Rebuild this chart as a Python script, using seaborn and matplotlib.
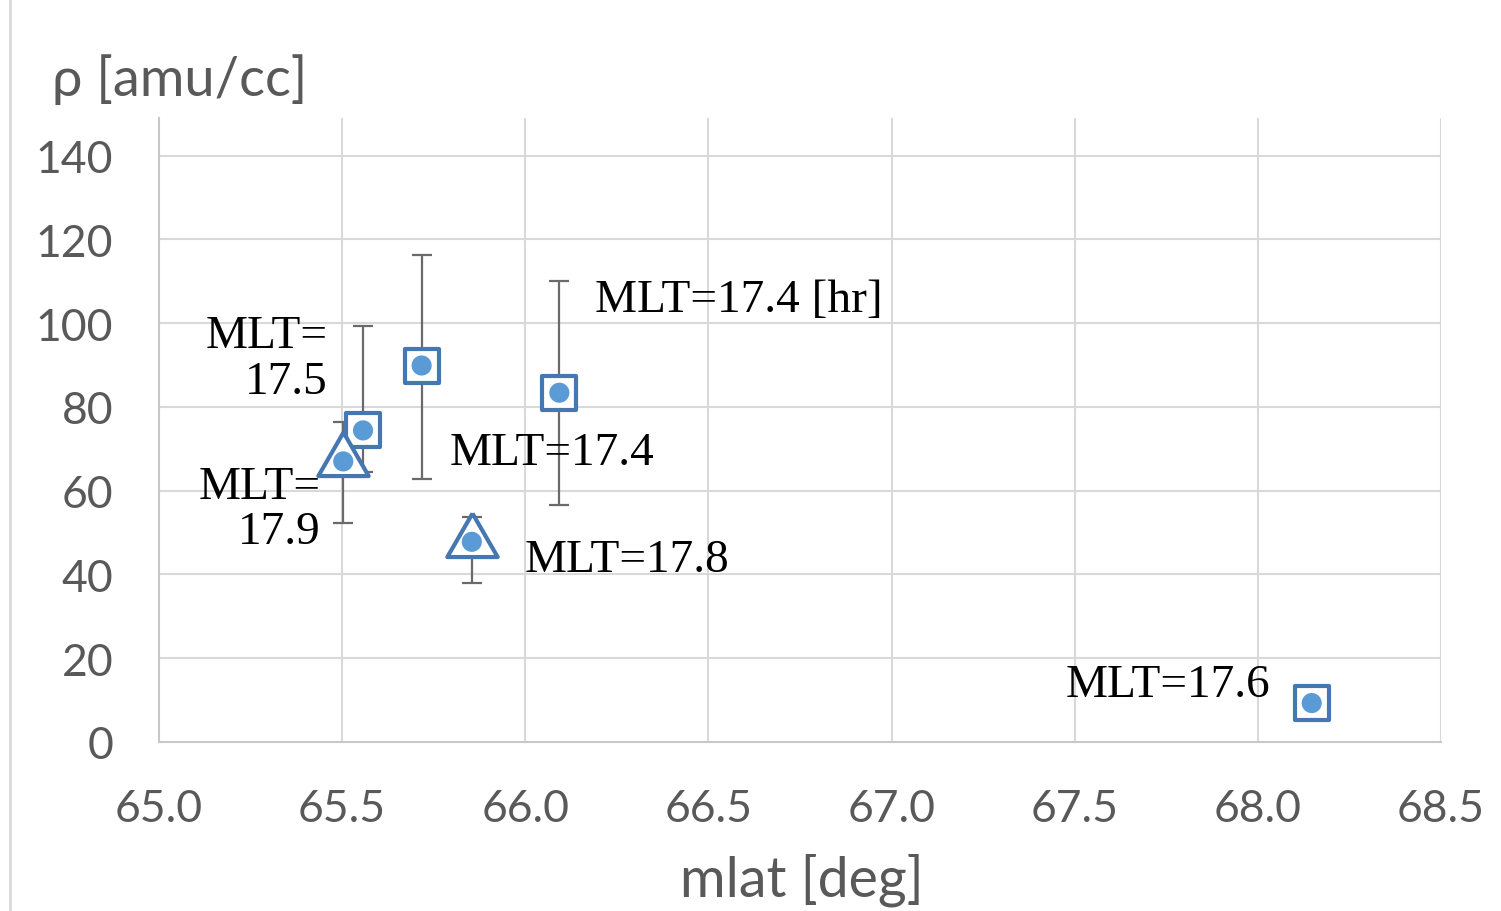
import matplotlib
matplotlib.use("Agg")
import matplotlib.pyplot as plt
from matplotlib.lines import Line2D
import numpy as np
import pandas as pd
import seaborn as sns

# Square-marker series: mlat, density, error-bar upper / lower ends
sq_mlat = [65.557, 65.717, 66.093, 68.147]
sq_rho = [74.4, 89.9, 83.4, 9.3]
sq_hi = [99.3, 116.3, 110.1, 10.3]
sq_lo = [64.4, 62.7, 56.6, 8.5]

# Triangle-marker series
tr_mlat = [65.503, 65.854]
tr_rho = [67.0, 47.8]
tr_hi = [76.4, 53.8]
tr_lo = [52.3, 37.9]

# MLT annotations
mlt_labels = ["MLT=17.4 [hr]", "MLT=\n17.5", "MLT=\n17.9", "MLT=17.4", "MLT=17.8", "MLT=17.6"]

x_ticks = [65.0, 65.5, 66.0, 66.5, 67.0, 67.5, 68.0, 68.5]
y_ticks = [0, 20, 40, 60, 80, 100, 120, 140]

sns.set_theme(style="white")
plt.rcParams["font.family"] = ["Lato", "DejaVu Sans"]

W, H = 1501, 912
fig = plt.figure(figsize=(W / 100, H / 100), dpi=100)
ax = fig.add_axes([159 / W, 1 - 743 / H, (1441 - 159) / W, (743 - 119) / H])

ax.set_xlim(65.0, 68.5)
ax.set_ylim(0, 149)
ax.set_xticks(x_ticks)
ax.set_yticks(y_ticks)
ax.set_xticklabels([f"{v:.1f}" for v in x_ticks])
ax.set_yticklabels([str(v) for v in y_ticks])

grid_c = "#d9d9d9"
for v in x_ticks[1:]:
    ax.axvline(v, color=grid_c, lw=1.5, zorder=0)
for v in y_ticks[1:]:
    ax.axhline(v, color=grid_c, lw=1.5, zorder=0)
for s in ["top", "right"]:
    ax.spines[s].set_visible(False)
for s in ["left", "bottom"]:
    ax.spines[s].set_color("#c8c8c8")
    ax.spines[s].set_linewidth(1.5)

ax.tick_params(axis="both", length=0, labelsize=32, labelcolor="#595959")
ax.tick_params(axis="x", pad=33)
ax.tick_params(axis="y", pad=33)

err_c = "#6a6a6a"
edge_c = "#4677b0"
dot_c = "#5b9bd5"

# error bars
for xs, ys, hi, lo in [(sq_mlat, sq_rho, sq_hi, sq_lo), (tr_mlat, tr_rho, tr_hi, tr_lo)]:
    ys_a = np.array(ys)
    yerr = np.vstack([ys_a - np.array(lo), np.array(hi) - ys_a])
    ax.errorbar(xs, ys, yerr=yerr, fmt="none", ecolor=err_c, elinewidth=1.6,
                capsize=7, capthick=1.6, zorder=2)

df_sq = pd.DataFrame({"mlat": sq_mlat, "rho": sq_rho})
df_tr = pd.DataFrame({"mlat": tr_mlat, "rho": tr_rho})
df_all = pd.concat([df_sq, df_tr], ignore_index=True)

tri = [(0, 0.577), (-0.5, -0.289), (0.5, -0.289), (0, 0.577)]

sns.scatterplot(data=df_sq, x="mlat", y="rho", ax=ax, marker="s", s=590,
                facecolor="white", edgecolor=edge_c, linewidth=3.0, zorder=3)
sns.scatterplot(data=df_tr, x="mlat", y="rho", ax=ax, marker=tri, s=1750,
                facecolor="white", edgecolor=edge_c, linewidth=3.0, zorder=3)
sns.scatterplot(data=df_all, x="mlat", y="rho", ax=ax, marker="o", s=210,
                color=dot_c, edgecolor="none", zorder=4)

ax.set_xlabel("")
ax.set_ylabel("")

# annotation placement (data coords)
txt_pos = [
    (66.19, 105.6, "left"),
    (65.459, 91.6, "right"),
    (65.44, 55.6, "right"),
    (65.794, 69.0, "left"),
    (65.999, 43.6, "left"),
    (67.476, 13.6, "left"),
]
for lab, (x, y, ha) in zip(mlt_labels, txt_pos):
    ax.text(x, y, lab, ha=ha, va="center", multialignment="right",
            fontsize=34, family="Liberation Serif", color="black",
            linespacing=1.1, zorder=5)

fig.text(52 / W, 1 - 80 / H, "ρ [amu/cc]", ha="left", va="center",
         fontsize=39, color="#595959", family=["Lato", "DejaVu Sans"])
fig.text(802 / W, 1 - 880 / H, "mlat [deg]", ha="center", va="center",
         fontsize=40, color="#595959")

fig.add_artist(Line2D([10 / W, 10 / W], [0, 1], transform=fig.transFigure,
                      color="#d9d9d9", lw=2))

fig.savefig("out.png", dpi=100, facecolor="white")
